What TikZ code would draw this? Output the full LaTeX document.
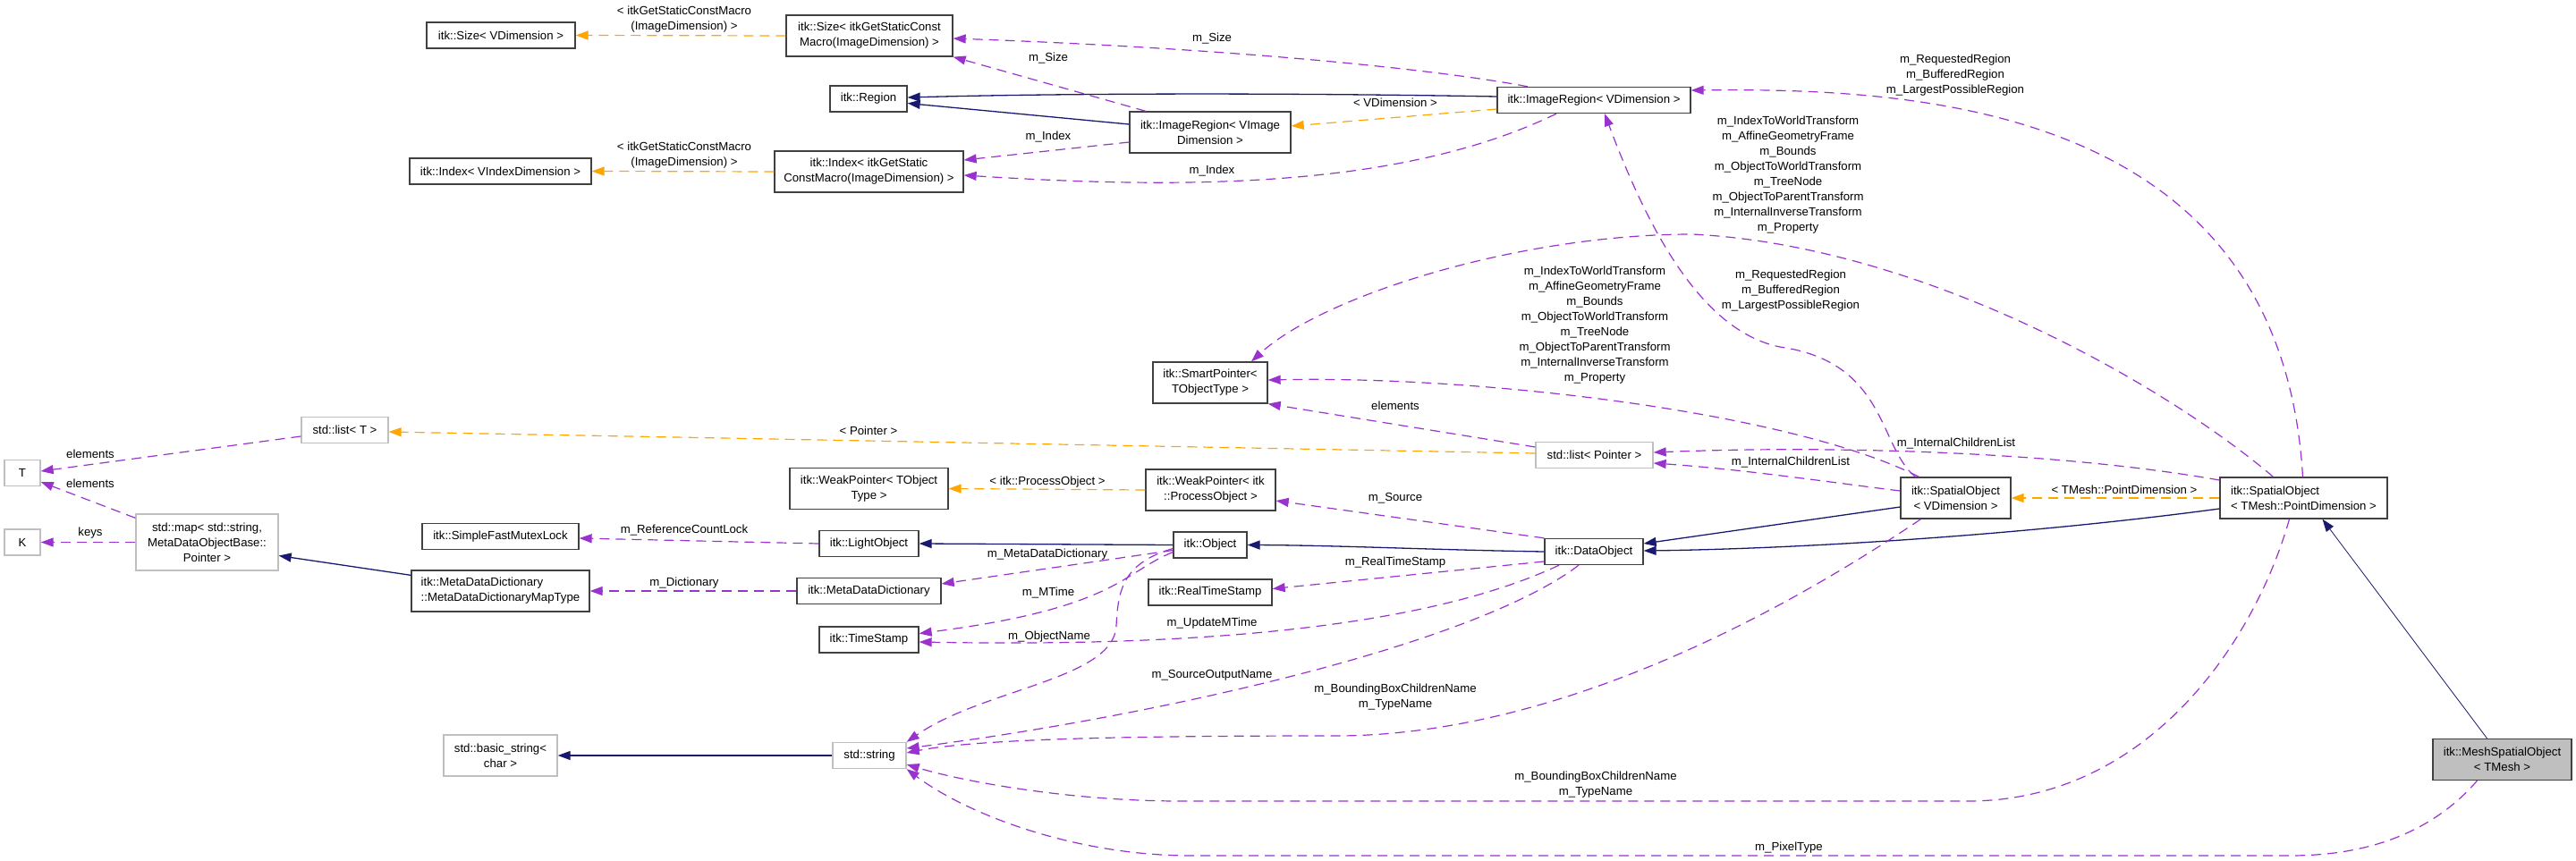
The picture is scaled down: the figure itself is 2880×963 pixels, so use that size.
\documentclass[tikz,border=0pt]{standalone}
\usepackage{fontspec}
\setmainfont{Liberation Sans}
\usetikzlibrary{arrows.meta}

\definecolor{edgenavy}{HTML}{191970}
\definecolor{edgeorchid}{HTML}{9A32CD}
\definecolor{edgeorange}{HTML}{FFA500}
\definecolor{extgray}{HTML}{BFBFBF}

\begin{document}
\begin{tikzpicture}[x=1pt,y=-1pt,
  every node/.style={font=\fontsize{13.2}{17}\selectfont,inner sep=0pt},
  cls/.style={draw=black!75,line width=1.3pt,fill=white,align=center,minimum height=29pt},
  ext/.style={cls,draw=extgray},
  two/.style={minimum height=46pt},
  lbl/.style={align=center},
  inh/.style={draw=edgenavy,line width=1.3pt,-{Triangle[length=14pt,width=10pt]}},
  mem/.style={draw=edgeorchid,line width=1.2pt,dash pattern=on 11pt off 7pt,-{Triangle[length=14pt,width=10pt]}},
  tpl/.style={mem,draw=edgeorange}]
\useasboundingbox (0,0) rectangle (2880,963);

\node[cls,minimum width=166pt] (sizev) at (560,39.5) {itk::Size< VDimension >};
\node[cls,two,minimum width=186pt] (sizemac) at (972,40) {itk::Size< itkGetStaticConst\\Macro(ImageDimension) >};
\node[cls,minimum width=86pt] (region) at (971,110.5) {itk::Region};
\node[cls,minimum width=203pt] (idxv) at (559.5,191.5) {itk::Index< VIndexDimension >};
\node[cls,two,minimum width=211pt] (idxmac) at (971.5,192) {itk::Index< itkGetStatic\\ConstMacro(ImageDimension) >};
\node[cls,two,minimum width=180pt] (imgregvi) at (1353,148) {itk::ImageRegion< VImage\\Dimension >};
\node[cls,minimum width=216pt] (imgregv) at (1782,112) {itk::ImageRegion< VDimension >};
\node[cls,two,minimum width=128pt] (smartp) at (1353,428) {itk::SmartPointer<\\TObjectType >};
\node[ext,minimum width=97pt] (listT) at (385.5,481) {std::list< T >};
\node[ext,minimum width=131pt] (listptr) at (1782.5,509) {std::list< Pointer >};
\node[ext,minimum width=40pt] (T) at (25,529) {T};
\node[ext,minimum width=40pt] (K) at (25,606.5) {K};
\node[ext,minimum height=63pt,minimum width=159pt] (map) at (231.5,606.5) {std::map< std::string,\\MetaDataObjectBase::\\Pointer >};
\node[cls,two,minimum width=177pt] (weakT) at (971.5,546.5) {itk::WeakPointer< TObject\\Type >};
\node[cls,two,minimum width=145pt] (weakitk) at (1353.5,548) {itk::WeakPointer< itk\\::ProcessObject >};
\node[cls,minimum width=175pt] (sfml) at (559.5,600) {itk::SimpleFastMutexLock};
\node[cls,minimum width=111pt] (lightobj) at (971.5,608) {itk::LightObject};
\node[cls,minimum width=82pt] (object) at (1353,609.5) {itk::Object};
\node[cls,minimum width=110pt] (dataobj) at (1782,617) {itk::DataObject};
\node[cls,minimum width=161pt] (mdd) at (971.5,661) {itk::MetaDataDictionary};
\node[cls,two,minimum width=199pt,align=left] (mapt) at (559.5,661) {itk::MetaDataDictionary\\::MetaDataDictionaryMapType};
\node[cls,minimum width=138pt] (realts) at (1353,662.5) {itk::RealTimeStamp};
\node[cls,minimum width=111pt] (timestamp) at (971.5,715.5) {itk::TimeStamp};
\node[ext,minimum width=82pt] (string) at (972,845) {std::string};
\node[ext,two,minimum width=127pt] (bstring) at (559.5,845) {std::basic\_string<\\char >};
\node[cls,two,minimum width=123pt] (sov) at (2186.5,557) {itk::SpatialObject\\< VDimension >};
\node[cls,two,minimum width=187pt,align=left] (somesh) at (2575.5,557) {itk::SpatialObject\\< TMesh::PointDimension >};
\node[cls,two,minimum width=155pt,fill=extgray] (meshso) at (2797.5,849.5) {itk::MeshSpatialObject\\< TMesh >};

\draw[tpl] (sizemac.west) -- (sizev.east);
\node[lbl] (lsizev) at (765,22) {< itkGetStaticConstMacro\\(ImageDimension) >};
\draw[tpl] (idxmac.west) -- (idxv.east);
\node[lbl] (lidxv) at (765,174) {< itkGetStaticConstMacro\\(ImageDimension) >};

\draw[inh] ([yshift=4pt]imgregv.west) .. controls (1450,104) and (1200,104) .. ([yshift=1.5pt]region.east);
\draw[inh] ([yshift=9pt]imgregvi.west) -- ([yshift=-5pt]region.east);
\draw[tpl] ([yshift=-10pt]imgregv.west) -- ([yshift=7pt]imgregvi.east);
\node[lbl] (lvdim) at (1560,115) {< VDimension >};

\draw[mem] ([xshift=-74pt]imgregv.north) .. controls (1620,80) and (1400,55) .. ([yshift=-3pt]sizemac.east);
\node[lbl] (lsize1) at (1355,43) {m\_Size};
\draw[mem] ([xshift=-72pt]imgregvi.north) -- (sizemac.south east);
\node[lbl] (lsize2) at (1172,65) {m\_Size};
\draw[mem] ([yshift=-11pt]imgregvi.west) -- ([yshift=13pt]idxmac.east);
\node[lbl] (lidx1) at (1172,153) {m\_Index};
\draw[mem] ([xshift=-42pt]imgregv.south) .. controls (1560,215) and (1300,210) .. ([yshift=-4pt]idxmac.east);
\node[lbl] (lidx2) at (1355,191) {m\_Index};

\draw[mem] ([xshift=-1pt]somesh.north) .. controls (2550,120) and (2150,98) .. ([yshift=11pt]imgregv.east);
\node[lbl] (lreg1) at (2186,84) {m\_RequestedRegion\\m\_BufferedRegion\\m\_LargestPossibleRegion};
\draw[mem] ([xshift=-45pt]sov.north) .. controls (2100,500) and (2110,405) .. (1990,388)
  .. controls (1900,370) and (1840,250) .. ([xshift=12pt]imgregv.south);
\node[lbl] (lreg2) at (2002,325) {m\_RequestedRegion\\m\_BufferedRegion\\m\_LargestPossibleRegion};

\draw[mem] ([xshift=-34pt]somesh.north) .. controls (2420,430) and (2150,275) .. (1892,262)
  .. controls (1700,262) and (1480,330) .. ([xshift=46pt]smartp.north);
\node[lbl] (lsp1) at (1999,195.5) {m\_IndexToWorldTransform\\m\_AffineGeometryFrame\\m\_Bounds\\m\_ObjectToWorldTransform\\m\_TreeNode\\m\_ObjectToParentTransform\\m\_InternalInverseTransform\\m\_Property};
\draw[mem] ([xshift=-41pt]sov.north) .. controls (2000,460) and (1650,420) .. ([yshift=3pt]smartp.east);
\node[lbl] (lsp2) at (1783,363.5) {m\_IndexToWorldTransform\\m\_AffineGeometryFrame\\m\_Bounds\\m\_ObjectToWorldTransform\\m\_TreeNode\\m\_ObjectToParentTransform\\m\_InternalInverseTransform\\m\_Property};
\draw[mem] ([yshift=9pt]listptr.west) -- (smartp.south east);
\node[lbl] (lelem1) at (1560,454) {elements};

\draw[mem] ([yshift=20pt]somesh.west) .. controls (2300,505) and (2050,498) .. ([yshift=3pt]listptr.east);
\node[lbl] (lchild1) at (2187,496) {m\_InternalChildrenList};
\draw[mem] ([yshift=8pt]sov.west) .. controls (2050,540) and (1950,525) .. ([yshift=-9pt]listptr.east);
\node[lbl] (lchild2) at (2002,517) {m\_InternalChildrenList};
\draw[tpl] ([yshift=2pt]listptr.west) -- ([yshift=-2pt]listT.east);
\node[lbl] (lptr) at (971,482) {< Pointer >};

\draw[mem] ([yshift=-7pt]listT.west) -- ([yshift=2pt]T.east);
\node[lbl] (lelem2) at (101,508) {elements};
\draw[mem] ([yshift=-5pt]map.north west) -- ([yshift=-10pt]T.east);
\node[lbl] (lelem3) at (101,541) {elements};
\draw[mem] (map.west) -- (K.east);
\node[lbl] (lkeys) at (101,596) {keys};
\draw[inh] ([yshift=-6pt]mapt.north west) -- ([yshift=-15pt]map.east);
\draw[mem] (mdd.west) -- (mapt.east);
\node[lbl] (ldict) at (765,652) {m\_Dictionary};
\draw[mem] (lightobj.west) -- ([yshift=-2pt]sfml.east);
\node[lbl] (lrefcnt) at (765,593) {m\_ReferenceCountLock};

\draw[inh] (object.west) -- (lightobj.east);
\draw[inh] (dataobj.west) .. controls (1600,615) and (1500,610) .. (object.east);
\draw[inh] ([yshift=-10pt]sov.west) -- ([yshift=9pt]dataobj.east);
\draw[inh] ([yshift=-12pt]somesh.west) .. controls (2250,600) and (2000,614) .. ([yshift=1pt]dataobj.east);
\draw[inh,line width=0.8pt] ([xshift=-17pt]meshso.north) -- ([xshift=21pt]somesh.south);
\draw[tpl] (somesh.west) -- (sov.east);
\node[lbl] (lpdim) at (2375,548) {< TMesh::PointDimension >};

\draw[mem] (dataobj.north west) -- ([yshift=-12pt]weakitk.east);
\node[lbl] (lsrc) at (1560,557) {m\_Source};
\draw[tpl] (weakitk.west) -- (weakT.east);
\node[lbl] (lproc) at (1171,539) {< itk::ProcessObject >};
\draw[mem] ([yshift=-11pt]dataobj.west) -- ([yshift=4pt]realts.east);
\node[lbl] (lrts) at (1560,629) {m\_RealTimeStamp};
\draw[mem] ([yshift=-6pt]object.west) -- ([yshift=8pt]mdd.east);
\node[lbl] (lmdd) at (1171,620) {m\_MetaDataDictionary};
\draw[mem] ([yshift=-8pt]object.west) .. controls (1255,640) and (1250,680) .. ([yshift=7pt]timestamp.east);
\node[lbl] (lmtime) at (1172,663) {m\_MTime};
\draw[mem] ([yshift=-4pt]object.west) .. controls (1255,630) and (1250,660) .. (1248,700)
  .. controls (1245,760) and (1100,770) .. (string.north east);
\node[lbl] (lobjname) at (1173,712) {m\_ObjectName};
\draw[mem] ([xshift=-39pt]dataobj.south) .. controls (1620,690) and (1400,725) .. ([yshift=-2.5pt]timestamp.east);
\node[lbl] (lupd) at (1355,697) {m\_UpdateMTime};

\draw[inh] (string.west) -- (bstring.east);
\draw[mem] ([xshift=-17pt]dataobj.south) .. controls (1650,720) and (1300,800) .. ([yshift=8pt]string.east);
\node[lbl] (lsrcout) at (1355,755) {m\_SourceOutputName};
\draw[mem] ([xshift=-39pt]sov.south) .. controls (2000,680) and (1750,820) .. (1500,823)
  .. controls (1300,823) and (1100,825) .. ([yshift=3pt]string.east);
\node[lbl] (lbb1) at (1560,779.5) {m\_BoundingBoxChildrenName\\m\_TypeName};
\draw[mem] ([xshift=-16pt]somesh.south) .. controls (2520,720) and (2400,896) .. (2200,896) -- (1319,896)
  .. controls (1200,896) and (1080,875) .. ([yshift=-10pt]string.east);
\node[lbl] (lbb2) at (1784,877.5) {m\_BoundingBoxChildrenName\\m\_TypeName};
\draw[mem] ([xshift=-28pt]meshso.south) .. controls (2720,930) and (2650,957) .. (2560,957) -- (1332,957)
  .. controls (1200,957) and (1080,910) .. (string.south east);
\node[lbl] (lpix) at (2000,948) {m\_PixelType};
\end{tikzpicture}
\end{document}
